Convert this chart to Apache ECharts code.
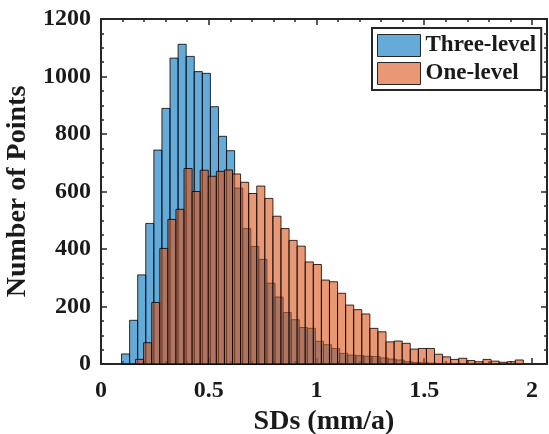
<!DOCTYPE html>
<html>
<head>
<meta charset="utf-8">
<script src="https://cdn.jsdelivr.net/npm/echarts@6/dist/echarts.min.js"></script>
<style>
  html, body { margin: 0; padding: 0; background: #fff; }
  #chart { width: 549px; height: 434px; }
</style>
</head>
<body>
<div id="chart"></div>
<script>
// histogram bins (MATLAB style, both series same bin width but shifted edges)
const binWidth = 0.0375;
const threeStart = 0.0953;
const oneStart = 0.1604;

const threeCounts = [35, 152, 310, 489, 744, 889, 1064, 1112, 1070, 1017,
  1011, 895, 792, 742, 612, 471, 409, 364, 281, 233,
  179, 154, 127, 124, 79, 67, 54, 37, 31, 29,
  27, 26, 21, 17, 14, 8, 5, 4, 3, 2, 2, 1];

const oneCounts = [16, 74, 214, 402, 503, 538, 680, 600, 674, 653,
  670, 675, 661, 632, 593, 619, 576, 514, 471, 430,
  410, 355, 346, 292, 286, 246, 205, 189, 174, 124,
  112, 77, 80, 72, 52, 54, 54, 34, 25, 16,
  20, 12, 8, 16, 10, 6, 8, 14];

const xTicks = [0, 0.5, 1, 1.5, 2];
const yTicks = [0, 200, 400, 600, 800, 1000, 1200];

const toBins = (start, counts) => counts.map((c, i) => [start + i * binWidth, start + (i + 1) * binWidth, c]);

const font = 'Liberation Serif';
const ink = '#1a1a1a';
const axisColor = '#262626';

const renderBar = (params, api) => {
  const p0 = api.coord([api.value(0), api.value(2)]);
  const p1 = api.coord([api.value(1), 0]);
  return {
    type: 'rect',
    shape: { x: p0[0], y: p0[1], width: p1[0] - p0[0], height: p1[1] - p0[1] },
    style: api.style({ stroke: '#000', lineWidth: 0.8 })
  };
};

const chart = echarts.init(document.getElementById('chart'));

const baseX = {
  type: 'value',
  min: xTicks[0],
  max: 2.07,
  interval: 0.5,
  axisLine: { show: true, onZero: false, lineStyle: { color: axisColor, width: 2 } },
  axisTick: { show: true, inside: true, length: 6, lineStyle: { color: axisColor, width: 1.5 } },
  minorTick: { show: true, splitNumber: 5, length: 3, lineStyle: { color: axisColor, width: 1.5 } },
  splitLine: { show: false }
};
const baseY = {
  type: 'value',
  min: yTicks[0],
  max: yTicks[yTicks.length - 1],
  interval: 200,
  axisLine: { show: true, onZero: false, lineStyle: { color: axisColor, width: 2 } },
  axisTick: { show: true, inside: true, length: 6, lineStyle: { color: axisColor, width: 1.5 } },
  minorTick: { show: true, splitNumber: 4, length: 3, lineStyle: { color: axisColor, width: 1.5 } },
  splitLine: { show: false }
};

chart.setOption({
  backgroundColor: '#fff',
  animation: false,
  grid: { left: 101, right: 2, top: 19, bottom: 70, outerBoundsMode: 'none' },
  legend: {
    orient: 'vertical',
    left: 372,
    top: 28,
    padding: [6, 5, 5, 5],
    itemGap: 5,
    itemWidth: 43,
    itemHeight: 22,
    icon: 'rect',
    borderColor: axisColor,
    borderWidth: 2,
    backgroundColor: '#fff',
    textStyle: { fontFamily: font, fontWeight: 'bold', fontSize: 23, lineHeight: 22, color: ink },
    data: [
      { name: 'Three-level', itemStyle: { color: 'rgba(0,114,189,0.6)', borderColor: axisColor, borderWidth: 1 } },
      { name: 'One-level', itemStyle: { color: 'rgba(217,83,25,0.6)', borderColor: axisColor, borderWidth: 1 } }
    ]
  },
  xAxis: [
    Object.assign({}, baseX, {
      position: 'bottom',
      name: 'SDs (mm/a)',
      nameLocation: 'middle',
      nameGap: 44,
      nameTextStyle: { fontFamily: font, fontWeight: 'bold', fontSize: 28, color: ink },
      axisLabel: {
        showMaxLabel: false,
        margin: 15,
        fontFamily: font, fontWeight: 'bold', fontSize: 24, color: ink
      }
    }),
    Object.assign({}, baseX, { position: 'top', axisLabel: { show: false } })
  ],
  yAxis: [
    Object.assign({}, baseY, {
      position: 'left',
      name: 'Number of Points',
      nameLocation: 'middle',
      nameGap: 52,
      nameTextStyle: { fontFamily: font, fontWeight: 'bold', fontSize: 28, color: ink },
      axisLabel: {
        margin: 10, fontFamily: font, fontWeight: 'bold', fontSize: 24, color: ink,
        formatter: v => String(v)
      }
    }),
    Object.assign({}, baseY, { position: 'right', axisLabel: { show: false } })
  ],
  series: [
    {
      name: 'Three-level',
      type: 'custom',
      xAxisIndex: 0,
      yAxisIndex: 0,
      renderItem: renderBar,
      itemStyle: { color: 'rgba(0,114,189,0.6)' },
      encode: { x: [0, 1], y: 2 },
      data: toBins(threeStart, threeCounts)
    },
    {
      name: 'One-level',
      type: 'custom',
      xAxisIndex: 0,
      yAxisIndex: 0,
      renderItem: renderBar,
      itemStyle: { color: 'rgba(217,83,25,0.6)' },
      encode: { x: [0, 1], y: 2 },
      data: toBins(oneStart, oneCounts)
    }
  ]
});
</script>
</body>
</html>
